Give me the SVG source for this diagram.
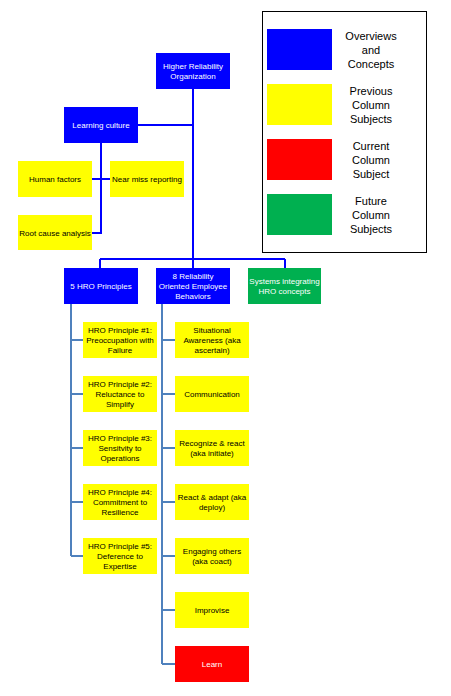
<svg xmlns="http://www.w3.org/2000/svg" width="451" height="696" viewBox="0 0 451 696">
<style>
.b{fill:#0000FF}.y{fill:#FFFF00}.r{fill:#FF0000}.g{fill:#00B050}
text{font-family:"Liberation Sans",Arial,sans-serif;font-size:8px;text-anchor:middle}
.w{fill:#FFFFFF}.k{fill:#000000}
.lg{font-size:11px;fill:#000000}
.c1{stroke:#0000FF;stroke-width:2;fill:none}
.c2{stroke:#4F81BD;stroke-width:2;fill:none}
</style>
<rect width="451" height="696" fill="#FFFFFF"/>
<g id="connectors">
<path class="c1" d="M193 89V259M100 259H285M100 259V268M193 259V268M285 259V268M138 125H193M101 143V233H92M92 179H110"/>
<path class="c2" d="M71 304V556M71 340H83M71 394H83M71 448H83M71 502H83M71 556H83"/>
<path class="c2" d="M162 304V664M162 340H175M162 394H175M162 448H175M162 502H175M162 556H175M162 610H175M162 664H175"/>
</g>
<g id="n-hro"><rect class="b" x="156" y="53" width="74" height="36"/><text class="w" x="193" y="69">Higher Reliability</text><text class="w" x="193" y="79">Organization</text></g>
<g id="n-learning"><rect class="b" x="64" y="107" width="74" height="36"/><text class="w" x="101" y="128">Learning culture</text></g>
<g id="n-human"><rect class="y" x="18" y="161" width="74" height="36"/><text class="k" x="55" y="182">Human factors</text></g>
<g id="n-nearmiss"><rect class="y" x="110" y="161" width="74" height="36"/><text class="k" x="147" y="182">Near miss reporting</text></g>
<g id="n-rootcause"><rect class="y" x="18" y="215" width="74" height="35"/><text class="k" x="55" y="236">Root cause analysis</text></g>
<g id="n-5hro"><rect class="b" x="64" y="268" width="74" height="36"/><text class="w" x="101" y="289">5 HRO Principles</text></g>
<g id="n-8rel"><rect class="b" x="156" y="268" width="74" height="36"/><text class="w" x="193" y="279">8 Reliability</text><text class="w" x="193" y="289">Oriented Employee</text><text class="w" x="193" y="299">Behaviors</text></g>
<g id="n-systems"><rect class="g" x="248" y="268" width="73" height="36"/><text class="w" x="284.5" y="284">Systems integrating</text><text class="w" x="284.5" y="294">HRO concepts</text></g>
<g id="n-p1"><rect class="y" x="83" y="322" width="74" height="36"/><text class="k" x="120" y="333">HRO Principle #1:</text><text class="k" x="120" y="343">Preoccupation with</text><text class="k" x="120" y="353">Failure</text></g>
<g id="n-p2"><rect class="y" x="83" y="376" width="74" height="36"/><text class="k" x="120" y="387">HRO Principle #2:</text><text class="k" x="120" y="397">Reluctance to</text><text class="k" x="120" y="407">Simplify</text></g>
<g id="n-p3"><rect class="y" x="83" y="430" width="74" height="36"/><text class="k" x="120" y="441">HRO Principle #3:</text><text class="k" x="120" y="451">Sensitvity to</text><text class="k" x="120" y="461">Operations</text></g>
<g id="n-p4"><rect class="y" x="83" y="484" width="74" height="36"/><text class="k" x="120" y="495">HRO Principle #4:</text><text class="k" x="120" y="505">Commitment to</text><text class="k" x="120" y="515">Resilience</text></g>
<g id="n-p5"><rect class="y" x="83" y="538" width="74" height="36"/><text class="k" x="120" y="549">HRO Principle #5:</text><text class="k" x="120" y="559">Deference to</text><text class="k" x="120" y="569">Expertise</text></g>
<g id="n-b1"><rect class="y" x="175" y="322" width="74" height="36"/><text class="k" x="212" y="333">Situational</text><text class="k" x="212" y="343">Awareness (aka</text><text class="k" x="212" y="353">ascertain)</text></g>
<g id="n-b2"><rect class="y" x="175" y="376" width="74" height="36"/><text class="k" x="212" y="397">Communication</text></g>
<g id="n-b3"><rect class="y" x="175" y="430" width="74" height="36"/><text class="k" x="212" y="446">Recognize &amp; react</text><text class="k" x="212" y="456">(aka initiate)</text></g>
<g id="n-b4"><rect class="y" x="175" y="484" width="74" height="36"/><text class="k" x="212" y="500">React &amp; adapt (aka</text><text class="k" x="212" y="510">deploy)</text></g>
<g id="n-b5"><rect class="y" x="175" y="538" width="74" height="36"/><text class="k" x="212" y="554">Engaging others</text><text class="k" x="212" y="564">(aka coact)</text></g>
<g id="n-b6"><rect class="y" x="175" y="592" width="74" height="36"/><text class="k" x="212" y="613">Improvise</text></g>
<g id="n-b7"><rect class="r" x="175" y="646" width="74" height="36"/><text class="w" x="212" y="667">Learn</text></g>
<g id="legend">
<rect x="262.5" y="11.5" width="164" height="241" fill="#FFFFFF" stroke="#000000" stroke-width="1"/>
<rect class="b" x="267" y="29" width="65" height="41"/>
<rect class="y" x="267" y="84" width="65" height="41"/>
<rect class="r" x="267" y="139" width="65" height="41"/>
<rect class="g" x="267" y="194" width="65" height="41"/>
<text class="lg" x="371" y="40">Overviews</text><text class="lg" x="371" y="54">and</text><text class="lg" x="371" y="68">Concepts</text>
<text class="lg" x="371" y="95">Previous</text><text class="lg" x="371" y="109">Column</text><text class="lg" x="371" y="123">Subjects</text>
<text class="lg" x="371" y="150">Current</text><text class="lg" x="371" y="164">Column</text><text class="lg" x="371" y="178">Subject</text>
<text class="lg" x="371" y="205">Future</text><text class="lg" x="371" y="219">Column</text><text class="lg" x="371" y="233">Subjects</text>
</g>
</svg>
